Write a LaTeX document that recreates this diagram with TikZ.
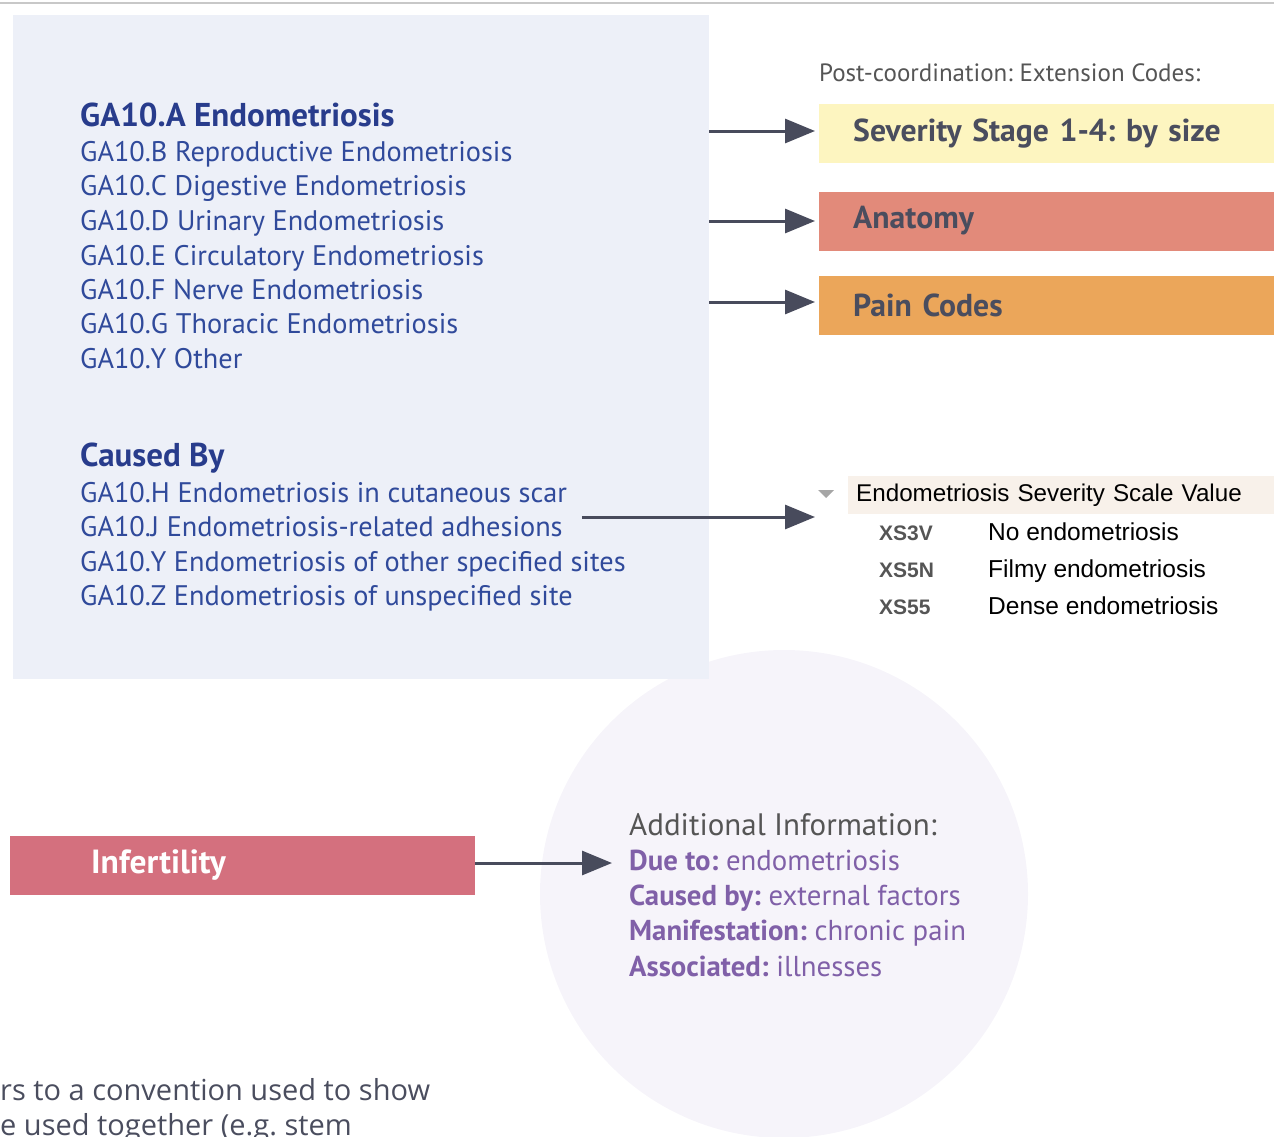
\documentclass[tikz,border=0pt]{standalone}
\usepackage{fontspec}
\setmainfont{PT Sans}
\newfontfamily\helvfont{Liberation Sans}
\newfontfamily\opensans{Open Sans}
\usetikzlibrary{arrows.meta,positioning}
\definecolor{PanelBlue}{RGB}{237,240,248}
\definecolor{CodeBlue}{RGB}{48,74,155}
\definecolor{HeadBlue}{RGB}{40,60,140}
\definecolor{ArrowGray}{RGB}{72,75,92}
\definecolor{BoxText}{RGB}{74,77,94}
\definecolor{SevYellow}{RGB}{253,245,192}
\definecolor{AnatSalmon}{RGB}{226,138,122}
\definecolor{PainOrange}{RGB}{235,166,90}
\definecolor{InfertRose}{RGB}{212,112,126}
\definecolor{InfoCircle}{RGB}{246,244,250}
\definecolor{InfoPurple}{RGB}{128,96,168}
\definecolor{NoteGray}{RGB}{85,85,85}
\definecolor{ScaleHead}{RGB}{248,241,234}
\definecolor{TopLine}{RGB}{200,200,200}
\frenchspacing

\begin{document}
\begin{tikzpicture}[x=1pt,y=-1pt,
  code/.style={
    anchor=base west,
    inner sep=0pt,
    text=CodeBlue,
    font=\fontsize{28.3}{32}\selectfont
  },
  head/.style={
    code,
    text=HeadBlue,
    font=\fontsize{33}{37}\selectfont\bfseries
  },
  extbox/.style={
    anchor=west,
    minimum width=455pt,
    minimum height=59pt,
    text width=387pt,
    inner xsep=34pt,
    align=left,
    text=BoxText,
    font=\fontsize{31.7}{35}\selectfont\bfseries
  },
  note/.style={anchor=base west, inner sep=0pt, text=NoteGray},
  scalecode/.style={
    anchor=base west,
    inner sep=0pt,
    text=NoteGray,
    font=\helvfont\fontsize{21}{25}\selectfont\bfseries
  },
  scaleval/.style={
    anchor=base west,
    inner sep=0pt,
    font=\helvfont\fontsize{24.5}{28}\selectfont
  },
  info/.style={
    anchor=base west,
    inner sep=0pt,
    text=InfoPurple,
    font=\fontsize{28.8}{32}\selectfont
  },
  arrow/.style={-{Triangle[length=30pt,width=24pt]}, line width=3pt, draw=ArrowGray}
]
\useasboundingbox (0,0) rectangle (1274,1136);
\clip (0,0) rectangle (1274,1136);

\draw[TopLine, line width=2pt] (0,3) -- (1274,3);
\fill[InfoCircle] (784,894) circle (244);
\node[fill=PanelBlue, minimum width=696pt, minimum height=664pt, inner sep=0pt] (panel) at (361,347) {};

% codes of the stem
\node[head] (stem) at (80,126) {GA10.A Endometriosis};
\node[code] (repro) at (80,161) {GA10.B Reproductive Endometriosis};
\node[code] (digest) at (80,195) {GA10.C Digestive Endometriosis};
\node[code] (urin) at (80,230) {GA10.D Urinary Endometriosis};
\node[code] (circ) at (80,265) {GA10.E Circulatory Endometriosis};
\node[code] (nerve) at (80,299) {GA10.F Nerve Endometriosis};
\node[code] (thorax) at (80,333) {GA10.G Thoracic Endometriosis};
\node[code] (other) at (80,368) {GA10.Y Other};

\node[head] (causes) at (80,466) {Caused By};
\node[code] (scar) at (80,502) {GA10.H Endometriosis in cutaneous scar};
\node[code] (adhesions) at (80,536) {GA10.J Endometriosis-related adhesions};
\node[code] (sites) at (80,571) {GA10.Y Endometriosis of other specified sites};
\node[code] (unspec) at (80,605) {GA10.Z Endometriosis of unspecified site};

% extension codes
\node[note, font=\fontsize{25}{29}\selectfont] (postco) at (819,81) {Post-coordination: Extension Codes:};
\node[extbox, fill=SevYellow] (severity) at (819,133.5) {Severity Stage 1-4: by size};
\node[extbox, fill=AnatSalmon] (anatomy) at (819,221) {Anatomy};
\node[extbox, fill=PainOrange] (pain) at (819,305) {Pain Codes};

\draw[arrow, shorten >=4pt] (panel.east |- 0,131) -- (severity.west |- 0,131);
\draw[arrow, shorten >=4pt] (panel.east |- anatomy.west) -- (anatomy.west);
\draw[arrow, shorten >=4pt] (panel.east |- 0,302) -- (pain.west |- 0,302);

% severity scale value
\fill[gray!70] (818,490) -- (834,490) -- (826,498) -- cycle;
\node[anchor=west, fill=ScaleHead, minimum width=426pt, minimum height=38pt,
  text width=410pt, inner xsep=8pt, align=left,
  font=\helvfont\fontsize{24.2}{28}\selectfont] (scale) at (848,495) {Endometriosis Severity Scale Value};
\node[scalecode] (xs3v) at (879,540) {XS3V};
\node[scaleval] (none) at (988,540) {No endometriosis};
\node[scalecode] (xs5n) at (879,577) {XS5N};
\node[scaleval] (filmy) at (988,577) {Filmy endometriosis};
\node[scalecode] (xs55) at (879,614) {XS55};
\node[scaleval] (dense) at (988,614) {Dense endometriosis};
\coordinate (scalein) at (815,517);

\draw[arrow] ([xshift=19pt]adhesions.east |- scalein) -- (scalein);

% infertility
\node[fill=InfertRose, anchor=west, minimum width=465pt, minimum height=59pt,
  text width=303pt, inner xsep=81pt, align=left, text=white,
  font=\fontsize{33.5}{37}\selectfont\bfseries] (infert) at (10,865.5) {Infertility};

\node[note, font=\fontsize{31}{35}\selectfont] (addhead) at (629,835) {Additional Information:};
\node[info] (dueto) at (629,870) {\textbf{Due to:} endometriosis};
\node[info] (causedby) at (629,905) {\textbf{Caused by:} external factors};
\node[info] (manif) at (629,940) {\textbf{Manifestation:} chronic pain};
\node[info] (assoc) at (629,976) {\textbf{Associated:} illnesses};

\draw[arrow, shorten >=17pt] (infert.east |- 0,863) -- (dueto.west |- 0,863);

% note below
\node[anchor=base west, inner sep=0pt, text=BoxText, font=\opensans\fontsize{29}{33}\selectfont] (note1) at (0,1100) {rs to a convention used to show};
\node[anchor=base west, inner sep=0pt, text=BoxText, font=\opensans\fontsize{29}{33}\selectfont] (note2) at (0,1135) {e used together (e.g. stem};
\end{tikzpicture}
\end{document}
